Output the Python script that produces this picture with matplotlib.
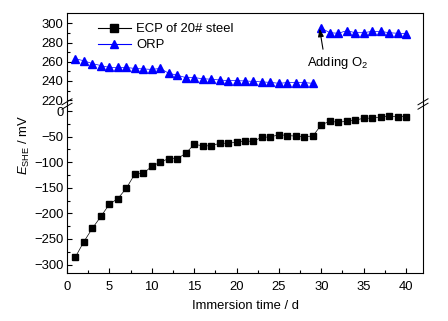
import numpy as np
import matplotlib
matplotlib.use('Agg')
import matplotlib.pyplot as plt
from matplotlib.lines import Line2D

plt.rcParams['font.family'] = ['Liberation Sans', 'DejaVu Sans']
plt.rcParams['font.size'] = 9.4
plt.rcParams['mathtext.fontset'] = 'custom'
plt.rcParams['mathtext.rm'] = 'Liberation Sans'
plt.rcParams['mathtext.it'] = 'Liberation Sans:italic'

# immersion time (d)
days = list(range(1, 41))
# ECP of 20# steel (mV vs SHE)
ecp = [-285, -255, -229, -206, -182, -171, -151, -123, -122, -108,
       -100, -93, -93, -83, -65, -68, -68, -63, -63, -61,
       -59, -59, -51, -51, -46, -48, -49, -50, -49, -27,
       -20, -22, -20, -18, -14, -14, -12, -10, -11, -11]
# ORP before and after adding O2
orp_days1 = list(range(1, 30))
orp1 = [263, 261, 258, 256, 254, 254, 254, 253, 252.5, 252,
        253, 248, 246, 243.5, 243.5, 242.3, 241.8, 241, 240.3, 240.3,
        240, 239.5, 239, 238.5, 237.5, 238.3, 238.3, 238.3, 237.5]
orp_days2 = list(range(30, 41))
orp2 = [295, 290.2, 289.6, 292.3, 290.2, 290.2, 291.6, 291.6, 290.2, 289.6, 289.2]

W, H = 448, 321
fig = plt.figure(figsize=(W/100, H/100), dpi=100)
left, right = 67/W, 423/W
top, mid, bot = 1-13/H, 1-104/H, 1-273/H
ax_up = fig.add_axes([left, mid, right-left, top-mid])
ax_lo = fig.add_axes([left, bot, right-left, mid-bot])

for ax in (ax_up, ax_lo):
    for s in ax.spines.values():
        s.set_linewidth(0.8)
    ax.tick_params(which='both', direction='in', right=False, top=False, width=0.8, pad=2.5)
    ax.tick_params(which='major', length=3.5)
    ax.tick_params(which='minor', length=2)
    ax.set_xlim(0, 42)

ax_up.spines['bottom'].set_visible(False)
ax_lo.spines['top'].set_visible(False)
ax_up.tick_params(axis='x', which='both', bottom=False, labelbottom=False)
ax_lo.tick_params(axis='x', which='both', pad=6)

ax_lo.plot(days, ecp, color='k', lw=0.5, marker='s', ms=5, mec='k', mfc='k')
ax_up.plot(orp_days1, orp1, color='b', lw=0.5, marker='^', ms=5.4, mec='b', mfc='b')
ax_up.plot(orp_days2, orp2, color='b', lw=0.5, marker='^', ms=5.4, mec='b', mfc='b')

ax_up.set_ylim(216, 310.7)
ax_up.set_yticks([220, 240, 260, 280, 300])
ax_up.set_yticks(np.arange(230, 310, 20), minor=True)
ax_lo.set_ylim(-316.5, 13.7)
ax_lo.set_yticks(np.arange(-300, 1, 50))
ax_lo.set_yticks(np.arange(-275, 0, 50), minor=True)
ax_lo.set_xticks(np.arange(0, 41, 5))
ax_lo.set_xticks(np.arange(2.5, 42, 5), minor=True)
ax_lo.set_xlabel('Immersion time / d', labelpad=5)

fig.text(24/W, 1-145/H, r'$E_{\mathrm{SHE}}$ / mV', rotation=90, ha='center', va='center')

ax_up.annotate('', xy=(29.8, 294.5), xytext=(30.2, 273),
               arrowprops=dict(arrowstyle='-|>,head_length=0.5,head_width=0.18', color='k', lw=0.8,
                               shrinkA=0, shrinkB=0))
ax_up.text(31.9, 259, 'Adding O$_2$', ha='center', va='center')

handles = [Line2D([], [], color='k', lw=0.8, marker='s', ms=5.2),
           Line2D([], [], color='b', lw=0.8, marker='^', ms=5.6)]
ax_up.legend(handles, ['ECP of 20# steel', 'ORP'], loc='upper left',
             bbox_to_anchor=(0.087, 0.89), frameon=False, borderpad=0,
             borderaxespad=0, handlelength=2.5, handletextpad=0.45, labelspacing=0.32)

# axis break marks
for xb in (left, right):
    for dy in (-2.2, 2.2):
        yb = mid + dy/H
        fig.add_artist(Line2D([xb-5/W, xb+5/W], [yb-3/H, yb+3/H],
                              color='k', lw=0.7, transform=fig.transFigure))

fig.savefig('out.png', dpi=100)
